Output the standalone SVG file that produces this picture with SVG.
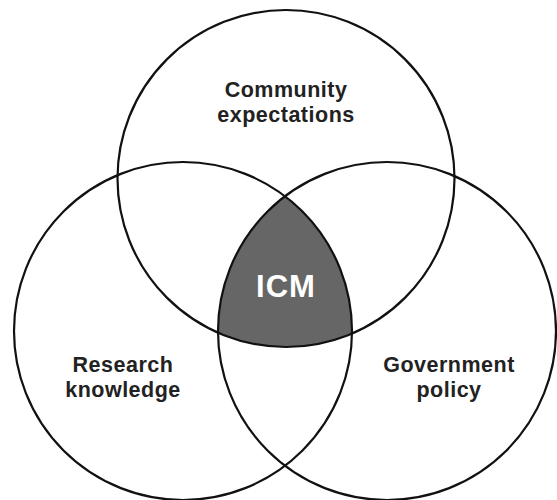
<svg xmlns="http://www.w3.org/2000/svg" width="557" height="500" viewBox="0 0 557 500">
<style>
.c{fill:none;stroke:#111;stroke-width:2.2}
.t{font-family:"Liberation Sans",Arial,sans-serif;font-weight:bold;font-size:21.5px;fill:#222;text-anchor:middle;letter-spacing:0.5px}
.icm{font-family:"Liberation Sans",Arial,sans-serif;font-weight:bold;font-size:31px;fill:#fff;text-anchor:middle;letter-spacing:1px}
</style>
<defs>
<clipPath id="cl"><circle cx="183" cy="331" r="169"/></clipPath>
<clipPath id="cr"><circle cx="387" cy="331" r="169"/></clipPath>
</defs>
<rect width="557" height="500" fill="#fff"/>
<g id="center-region" clip-path="url(#cl)">
<g clip-path="url(#cr)">
<circle cx="286" cy="178.5" r="168.5" fill="#666"/>
</g>
</g>
<g id="connectors"></g>
<g id="community">
<circle class="c" cx="286" cy="178.5" r="168.5"/>
<text class="t" x="286" y="97">Community</text>
<text class="t" x="286" y="122">expectations</text>
</g>
<g id="research">
<circle class="c" cx="183" cy="331" r="169"/>
<text class="t" x="123" y="372">Research</text>
<text class="t" x="123" y="397">knowledge</text>
</g>
<g id="government">
<circle class="c" cx="387" cy="331" r="169"/>
<text class="t" x="449" y="372">Government</text>
<text class="t" x="449" y="397">policy</text>
</g>
<g id="icm">
<text class="icm" x="286" y="297">ICM</text>
</g>
</svg>
